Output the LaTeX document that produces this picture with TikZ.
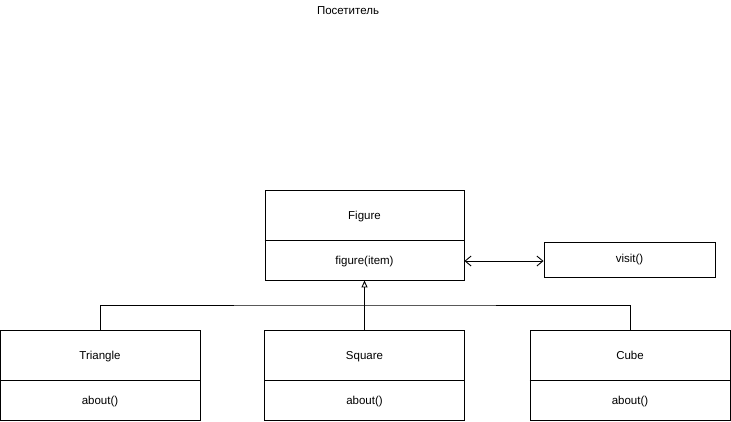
\documentclass[tikz,border=0pt]{standalone}
\usepackage{fontspec}
\setmainfont{Liberation Sans}
\usetikzlibrary{arrows.meta}
\begin{document}
\begin{tikzpicture}[x=1pt,y=-1pt,line width=0.9pt,
  lbl/.style={font=\fontsize{11.5}{13}\selectfont,text height=8.3pt,text depth=2.4pt},
  outer/.style={draw=black,minimum width=#1,minimum height=90pt,inner sep=0pt},
  conn/.style={draw=black,line width=0.9pt}]
\useasboundingbox (0,0) rectangle (731,421);
\node[lbl] (title) at (348,12) {Посетитель};
% Figure
\node[outer=199pt] (fig) at (364.5,235) {};
\draw (fig.west |- 0,240) -- (fig.east |- 0,240);
\node[lbl,minimum width=199pt,minimum height=50pt,inner sep=0pt] (figtop) at (364.5,216.5) {Figure};
\node[lbl,minimum width=199pt,minimum height=40pt,inner sep=0pt] (figbot) at (364.5,261.5) {figure(item)};
% visit
\node[lbl,draw,minimum width=171pt,minimum height=35pt,inner sep=0pt] (visit) at (629.5,259.5) {visit()};
% children
\foreach \nm/\cx/\txt in {tri/100/Triangle,sq/364.5/Square,cube/630/Cube}{
  \node[outer=200pt] (\nm box) at (\cx,375) {};
  \draw (\nm box.west |- 0,380) -- (\nm box.east |- 0,380);
  \node[lbl,minimum width=200pt,minimum height=50pt,inner sep=0pt] (\nm) at (\cx,356.5) {\txt};
  \node[lbl,minimum width=200pt,minimum height=40pt,inner sep=0pt] (\nm b) at (\cx,401.5) {about()};
}
\coordinate (j) at (364.5,305);
\draw[conn,-{Triangle[open,length=7pt,width=6pt]}] (sqbox.north) -- (fig.south);
\draw[conn] (tribox.north) |- (j) -| (cubebox.north);
\coordinate (vl) at (visit.west |- 0,261);
\draw[conn,{Straight Barb[length=6pt,width=10pt]}-{Straight Barb[length=6pt,width=10pt]}] (fig.east |- vl) -- (vl);
\end{tikzpicture}
\end{document}
